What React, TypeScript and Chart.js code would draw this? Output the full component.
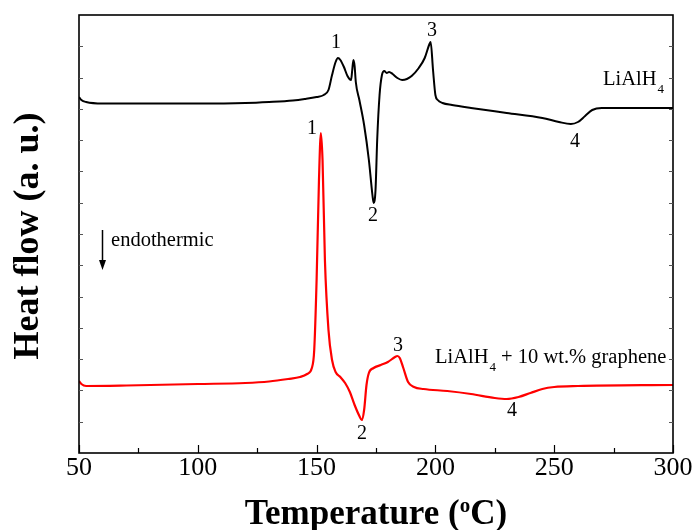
import React, { useEffect, useRef } from "react";
import { Chart, registerables } from "chart.js";

Chart.register(...registerables);

const FONT = "'Liberation Serif', 'Times New Roman', serif";

// Temperature ticks (°C)
const temperatureTicks = [50, 100, 150, 200, 250, 300];

// Pure LiAlH4 DSC curve: temperature (°C) and heat flow (a.u.)
const pureTemp = [50, 51, 53, 60, 80, 100, 120, 130, 140, 145, 150, 153, 155, 156.5, 158, 159, 160, 161.5, 163, 164.5, 165, 165.5, 166, 166.5, 168, 170, 172, 173.5, 174, 174.8, 175.5, 176.5, 177.5, 178.5, 179.5, 180.5, 182, 184, 186, 188, 190, 193, 195.5, 197.5, 198, 199, 200, 201, 203, 207, 215, 230, 245, 252, 257, 260, 263, 266, 270, 280, 300];
const pureHeat = [356, 353, 351, 349.5, 349.5, 349.5, 350, 351, 352.5, 354, 356, 358, 363, 378, 391, 395, 393, 386, 377, 373, 383, 393, 387, 371, 353, 328, 293, 258, 250, 263, 313, 358, 378, 382, 380, 381, 379, 375, 373, 374, 377, 385, 395, 409, 411, 383, 358, 353, 350, 348, 345, 340, 335, 331, 329, 331, 337, 343, 345, 345, 345];

// LiAlH4 + 10 wt.% graphene DSC curve
const grapheneTemp = [50, 51, 53, 70, 100, 120, 130, 138, 143, 146, 148, 149, 150, 151, 151.8, 152.5, 153.5, 155, 156.5, 158, 160, 162, 164, 166, 168, 169, 170, 171, 172, 174, 177, 180, 183, 184, 185, 186.5, 188.5, 191, 195, 205, 215, 225, 230, 235, 240, 245, 250, 260, 300];
const grapheneHeat = [72, 69, 67, 67.5, 69, 70, 71.5, 74, 76, 79, 85, 103, 173, 273, 320, 293, 193, 123, 93, 81, 76, 70, 61, 48, 37, 33, 43, 68, 80, 85, 88, 91, 96, 97, 95, 85, 71, 66, 64, 62, 59, 55, 54, 56, 60, 64, 66, 67, 68];

// Peak labels: text, temperature, heat flow
const pureLabels = ["1", "2", "3", "4"];
const pureLabelTemp = [158.2, 173.7, 198.6, 258.8];
const pureLabelHeat = [410, 237, 422, 311];
const grapheneLabels = ["1", "2", "3", "4"];
const grapheneLabelTemp = [148.1, 169.1, 184.3, 232.2];
const grapheneLabelHeat = [324, 19, 107, 42];

const HEAT_MIN = 0;
const HEAT_MAX = 438;

const overlay = {
  id: "overlay",
  afterDraw(chart: any) {
    const ctx = chart.ctx;
    const ca = chart.chartArea;
    const xs = chart.scales.x;
    const ys = chart.scales.y;
    ctx.save();
    ctx.strokeStyle = "#000";
    ctx.fillStyle = "#000";
    // frame
    ctx.lineWidth = 1.6;
    ctx.strokeRect(ca.left, ca.top, ca.right - ca.left, ca.bottom - ca.top);
    // x ticks (inward)
    ctx.lineWidth = 1.2;
    for (let t = 50; t <= 300; t += 25) {
      const px = Math.round(xs.getPixelForValue(t)) + 0.5;
      const len = t % 50 === 0 ? 8 : 5;
      ctx.beginPath();
      ctx.moveTo(px, ca.bottom);
      ctx.lineTo(px, ca.bottom - len);
      ctx.stroke();
    }
    // y ticks (inward, left and right)
    ctx.lineWidth = 1;
    ctx.strokeStyle = "#555";
    const n = 14;
    for (let i = 1; i < n; i++) {
      const v = HEAT_MIN + ((HEAT_MAX - HEAT_MIN) * i) / n;
      const py = Math.round(ys.getPixelForValue(v)) + 0.5;
      ctx.beginPath();
      ctx.moveTo(ca.left, py);
      ctx.lineTo(ca.left + 4, py);
      ctx.moveTo(ca.right, py);
      ctx.lineTo(ca.right - 4, py);
      ctx.stroke();
    }
    ctx.strokeStyle = "#000";

    // peak labels
    ctx.font = `20px ${FONT}`;
    ctx.textAlign = "center";
    ctx.textBaseline = "middle";
    pureLabels.forEach((l, i) => {
      ctx.fillText(l, xs.getPixelForValue(pureLabelTemp[i]), ys.getPixelForValue(pureLabelHeat[i]));
    });
    grapheneLabels.forEach((l, i) => {
      ctx.fillText(l, xs.getPixelForValue(grapheneLabelTemp[i]), ys.getPixelForValue(grapheneLabelHeat[i]));
    });

    // series labels with subscript
    const drawFormula = (x: number, y: number, suffix: string) => {
      ctx.textAlign = "left";
      ctx.textBaseline = "middle";
      ctx.font = `20.5px ${FONT}`;
      ctx.fillText("LiAlH", x, y);
      let w = ctx.measureText("LiAlH").width;
      ctx.font = `13px ${FONT}`;
      ctx.fillText("4", x + w + 1, y + 10);
      w += ctx.measureText("4").width + 1;
      if (suffix) {
        ctx.font = `20.5px ${FONT}`;
        ctx.fillText(suffix, x + w, y);
      }
    };
    drawFormula(xs.getPixelForValue(270.5), ys.getPixelForValue(373), "");
    drawFormula(xs.getPixelForValue(199.8), ys.getPixelForValue(95), " + 10 wt.% graphene");

    // endothermic arrow
    const ax = Math.round(xs.getPixelForValue(59.7)) + 0.5;
    const ay1 = ys.getPixelForValue(223);
    const ay2 = ys.getPixelForValue(183);
    ctx.lineWidth = 1.5;
    ctx.beginPath();
    ctx.moveTo(ax, ay1);
    ctx.lineTo(ax, ay2 - 8);
    ctx.stroke();
    ctx.beginPath();
    ctx.moveTo(ax - 3.5, ay2 - 10);
    ctx.lineTo(ax + 3.5, ay2 - 10);
    ctx.lineTo(ax, ay2);
    ctx.closePath();
    ctx.fill();
    ctx.font = `20.5px ${FONT}`;
    ctx.textAlign = "left";
    ctx.textBaseline = "middle";
    ctx.fillText("endothermic", xs.getPixelForValue(63.5), ys.getPixelForValue(212));

    // y title
    ctx.save();
    ctx.translate(29, 236);
    ctx.rotate(-Math.PI / 2);
    ctx.font = `bold 36px ${FONT}`;
    ctx.textAlign = "center";
    ctx.textBaseline = "middle";
    ctx.fillText("Heat flow (a. u.)", 0, 0);
    ctx.restore();

    // x title with superscript o
    const cx = 376;
    const by = 524;
    ctx.textBaseline = "alphabetic";
    ctx.textAlign = "left";
    const big = `bold 35px ${FONT}`;
    const small = `bold 21px ${FONT}`;
    ctx.font = big;
    const p1 = "Temperature (";
    const p3 = "C)";
    const w1 = ctx.measureText(p1).width;
    const w3 = ctx.measureText(p3).width;
    ctx.font = small;
    const w2 = ctx.measureText("o").width;
    const total = w1 + w2 + w3;
    const x0 = cx - total / 2;
    ctx.font = big;
    ctx.fillText(p1, x0, by);
    ctx.font = small;
    ctx.fillText("o", x0 + w1, by - 12);
    ctx.font = big;
    ctx.fillText(p3, x0 + w1 + w2, by);
    ctx.restore();
  },
};

export default function App() {
  const ref = useRef<HTMLCanvasElement | null>(null);
  useEffect(() => {
    if (!ref.current) return;
    const chart = new Chart(ref.current, {
      type: "line",
      data: {
        datasets: [
          {
            label: "LiAlH4",
            data: pureTemp.map((t, i) => ({ x: t, y: pureHeat[i] })),
            borderColor: "#000000",
            borderWidth: 2,
            pointRadius: 0,
            cubicInterpolationMode: "monotone",
          },
          {
            label: "LiAlH4 + 10 wt.% graphene",
            data: grapheneTemp.map((t, i) => ({ x: t, y: grapheneHeat[i] })),
            borderColor: "#ff0000",
            borderWidth: 2.2,
            pointRadius: 0,
            cubicInterpolationMode: "monotone",
          },
        ],
      },
      options: {
        responsive: false,
        animation: false,
        devicePixelRatio: 1,
        layout: { padding: { top: 15, right: 23, left: 0, bottom: 0 } },
        plugins: { legend: { display: false }, tooltip: { enabled: false } },
        scales: {
          x: {
            type: "linear",
            min: 50,
            max: 300,
            afterBuildTicks: (s: any) => {
              s.ticks = temperatureTicks.map((v) => ({ value: v }));
            },
            ticks: {
              color: "#000",
              font: { family: FONT, size: 26 },
              padding: 0,
              maxRotation: 0,
            },
            grid: { display: false, drawTicks: false },
            border: { display: false },
            afterFit: (s: any) => {
              s.height = 77;
            },
          },
          y: {
            type: "linear",
            min: HEAT_MIN,
            max: HEAT_MAX,
            ticks: { display: false },
            grid: { display: false, drawTicks: false },
            border: { display: false },
            afterFit: (s: any) => {
              s.width = 79;
            },
          },
        },
      } as any,
      plugins: [overlay],
    });
    return () => chart.destroy();
  }, []);
  return (
    <div style={{ position: "fixed", left: 0, top: 0, width: 696, height: 530, background: "#fff" }}>
      <canvas ref={ref} width={696} height={530} />
    </div>
  );
}
